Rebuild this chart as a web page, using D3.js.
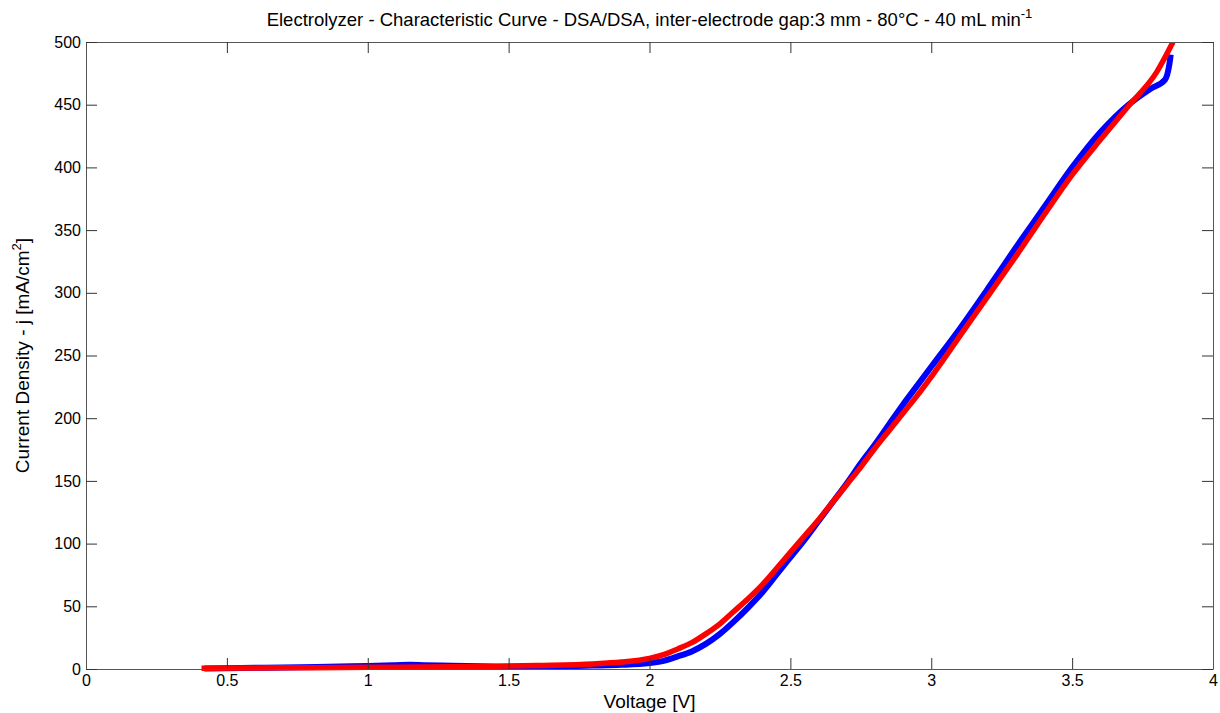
<!DOCTYPE html>
<html>
    <head>
        <meta charset="utf-8">
        <script src="https://cdn.jsdelivr.net/npm/d3@7"></script>
        <style>
            body { margin: 0; background: #fff; }
            text { font-family: "Liberation Sans", Arial, sans-serif; fill: #000; }
        </style>
    </head>
    <body>
        <svg width="1220" height="713"></svg>
        <script>

        // blue run (first sweep): voltage [V], current density [mA/cm2]
        var blueV = [0.42, 0.55, 0.7, 0.9, 1.0, 1.1, 1.15, 1.2, 1.3, 1.4, 1.5, 1.6, 1.7, 1.8, 1.9, 2.0, 2.05, 2.1, 2.15, 2.2, 2.25, 2.3, 2.35, 2.4, 2.45, 2.5, 2.55, 2.6, 2.65, 2.7, 2.75, 2.8, 2.85, 2.9, 2.95, 3.0, 3.1, 3.2, 3.3, 3.4, 3.5, 3.6, 3.7, 3.78, 3.83, 3.845, 3.85];
        var blueJ = [0.3, 0.8, 1.2, 2.0, 2.4, 3.0, 3.3, 3.0, 2.6, 2.2, 1.8, 1.9, 2.3, 2.7, 3.3, 4.8, 6.5, 10, 14, 20, 28, 38, 49, 61, 75, 89, 103, 118, 133, 148, 164, 179, 195, 211, 226, 241, 271, 303, 336, 368, 400, 428, 450, 463, 470, 482, 490];

        // red run (second sweep)
        var redV = [0.41, 0.6, 0.8, 1.0, 1.2, 1.4, 1.6, 1.8, 1.9, 2.0, 2.05, 2.1, 2.15, 2.2, 2.25, 2.3, 2.35, 2.4, 2.45, 2.5, 2.55, 2.6, 2.65, 2.7, 2.75, 2.8, 2.85, 2.9, 2.95, 3.0, 3.1, 3.2, 3.3, 3.4, 3.5, 3.6, 3.7, 3.8, 3.858];
        var redJ = [0.5, 0.8, 1.0, 1.3, 1.6, 2.0, 2.8, 4.0, 5.5, 8.5, 11.5, 16, 21, 28, 36, 46, 56, 67, 80, 93, 106, 119, 133, 147, 161, 176, 190, 204, 218, 233, 265, 297, 329, 362, 394, 422, 449, 476, 500];

        var xTicks = [0, 0.5, 1, 1.5, 2, 2.5, 3, 3.5, 4];
        var yTicks = [0, 50, 100, 150, 200, 250, 300, 350, 400, 450, 500];

        var svg = d3.select("svg"),
            margin = {top: 42, right: 7, bottom: 44, left: 86},
            width = +svg.attr("width") - margin.left - margin.right,
            height = +svg.attr("height") - margin.top - margin.bottom,
            g = svg.append("g").attr("transform", "translate(" + margin.left + "," + margin.top + ")");

        var x = d3.scaleLinear().domain([0, 4]).range([0, width]);
        var y = d3.scaleLinear().domain([0, 500]).range([height, 0]);

        var line = d3.line()
            .x(function(d) { return x(d[0]); })
            .y(function(d) { return y(d[1]); })
            .curve(d3.curveMonotoneX);

        var blue = blueV.map(function(v, i) { return [v, blueJ[i]]; });
        var red = redV.map(function(v, i) { return [v, redJ[i]]; });

        g.append("clipPath").attr("id", "clip")
          .append("rect").attr("width", width).attr("height", height + 3);

        g.append("path")
            .datum(blue)
            .attr("clip-path", "url(#clip)")
            .attr("fill", "none")
            .attr("stroke", "#0000ff")
            .attr("stroke-width", 6)
            .attr("d", line);

        g.append("path")
            .datum(red)
            .attr("clip-path", "url(#clip)")
            .attr("fill", "none")
            .attr("stroke", "#ff0000")
            .attr("stroke-width", 5.5)
            .attr("d", line);

        // MATLAB style box with inward ticks on all sides
        var tl = 11;
        g.append("g")
            .attr("transform", "translate(0," + height + ")")
            .call(d3.axisBottom(x).tickValues(xTicks).tickSizeInner(-tl).tickSizeOuter(0).tickPadding(6)
                .tickFormat(d3.format("")));
        g.append("g")
            .call(d3.axisTop(x).tickValues(xTicks).tickSizeInner(-tl).tickSizeOuter(0).tickFormat(""));
        g.append("g")
            .call(d3.axisLeft(y).tickValues(yTicks).tickSizeInner(-tl).tickSizeOuter(0).tickPadding(5));
        g.append("g")
            .attr("transform", "translate(" + width + ",0)")
            .call(d3.axisRight(y).tickValues(yTicks).tickSizeInner(-tl).tickSizeOuter(0).tickFormat(""));

        g.selectAll(".domain").attr("stroke", "#555");
        g.selectAll(".tick line").attr("stroke", "#333");
        g.selectAll(".tick text").style("font-size", "16px").attr("fill", "#000");

        // title
        var title = svg.append("text")
            .attr("x", margin.left + width / 2)
            .attr("y", 26)
            .attr("text-anchor", "middle")
            .style("font-size", "18.5px");
        title.append("tspan").text("Electrolyzer - Characteristic Curve - DSA/DSA, inter-electrode gap:3 mm - 80°C - 40 mL min");
        title.append("tspan").attr("dy", -8).style("font-size", "13px").text("-1");

        svg.append("text")
            .attr("x", margin.left + width / 2)
            .attr("y", 708)
            .attr("text-anchor", "middle")
            .style("font-size", "19px")
            .text("Voltage [V]");

        var ylab = svg.append("text")
            .attr("transform", "translate(29," + (margin.top + height / 2) + ") rotate(-90)")
            .attr("text-anchor", "middle")
            .style("font-size", "19px");
        ylab.append("tspan").text("Current Density - j [mA/cm");
        ylab.append("tspan").attr("dy", -8).style("font-size", "13px").text("2");
        ylab.append("tspan").attr("dy", 8).text("]");

        </script>
    </body>
</html>
